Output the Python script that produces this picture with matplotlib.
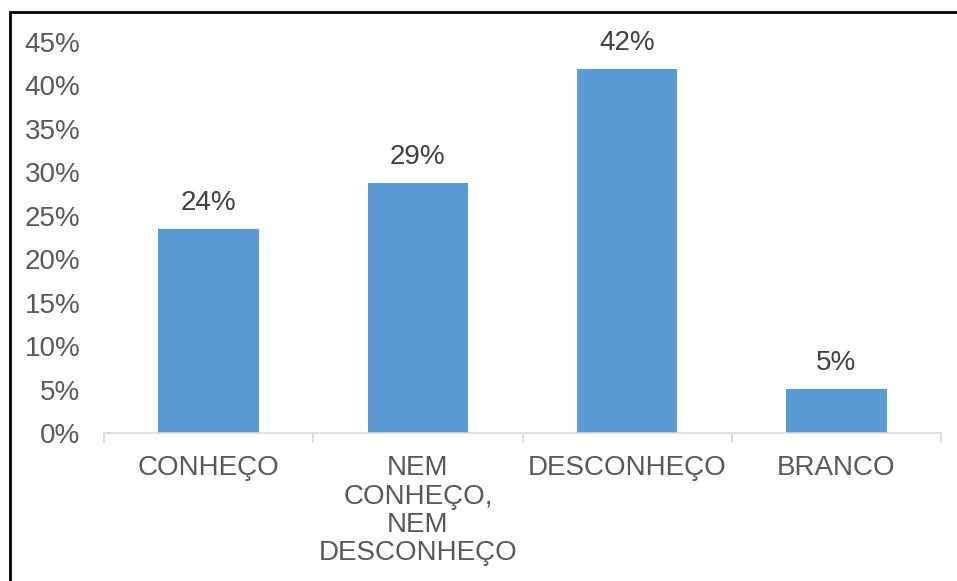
import matplotlib.pyplot as plt
from matplotlib.patches import Rectangle
from matplotlib.ticker import FixedLocator, PercentFormatter

plt.rcParams['font.family'] = ['Liberation Sans', 'DejaVu Sans']

# data
categories = ["CONHEÇO", "NEM\nCONHEÇO,\nNEM\nDESCONHEÇO", "DESCONHEÇO", "BRANCO"]
values = [0.235, 0.288, 0.419, 0.051]
value_labels = ["24%", "29%", "42%", "5%"]

bar_color = "#5B9BD5"

fig = plt.figure(figsize=(9.57, 5.81), dpi=100)
ax = fig.add_axes([0.1087, 0.2547, 0.8746, 0.673])

x = list(range(len(categories)))
bars = ax.bar(x, values, width=0.48, color=bar_color)

for b, lab in zip(bars, value_labels):
    ax.annotate(lab, (b.get_x() + b.get_width() / 2, b.get_height()),
                xytext=(0, 9.5), textcoords="offset points",
                ha="center", va="bottom", fontsize=20, color="#404040")

ax.set_xlim(-0.5, len(categories) - 0.5)
ax.set_ylim(0, 0.45)
ax.set_yticks([i * 0.05 for i in range(10)])
ax.yaxis.set_major_formatter(PercentFormatter(1.0, decimals=0))
ax.tick_params(axis="y", length=0, labelsize=20, labelcolor="#595959", pad=17)

ax.set_xticks(x)
ax.set_xticklabels(categories, linespacing=1.12)
ax.tick_params(axis="x", which="major", length=0, labelsize=20,
               labelcolor="#595959", pad=16)
ax.xaxis.set_minor_locator(FixedLocator([i - 0.5 for i in range(len(categories) + 1)]))
ax.tick_params(axis="x", which="minor", length=7, width=1.2, color="#D9D9D9")

for s in ["top", "right", "left"]:
    ax.spines[s].set_visible(False)
ax.spines["bottom"].set_color("#D9D9D9")
ax.spines["bottom"].set_linewidth(1.2)

# outer border of the figure (cut off at right/bottom in the reference)
fig.patches.append(Rectangle((10 / 957, -0.05), 1.0, 1 - 12 / 581 + 0.05,
                             transform=fig.transFigure, fill=False,
                             edgecolor="black", linewidth=2.0))

fig.savefig("out.png", dpi=100)
